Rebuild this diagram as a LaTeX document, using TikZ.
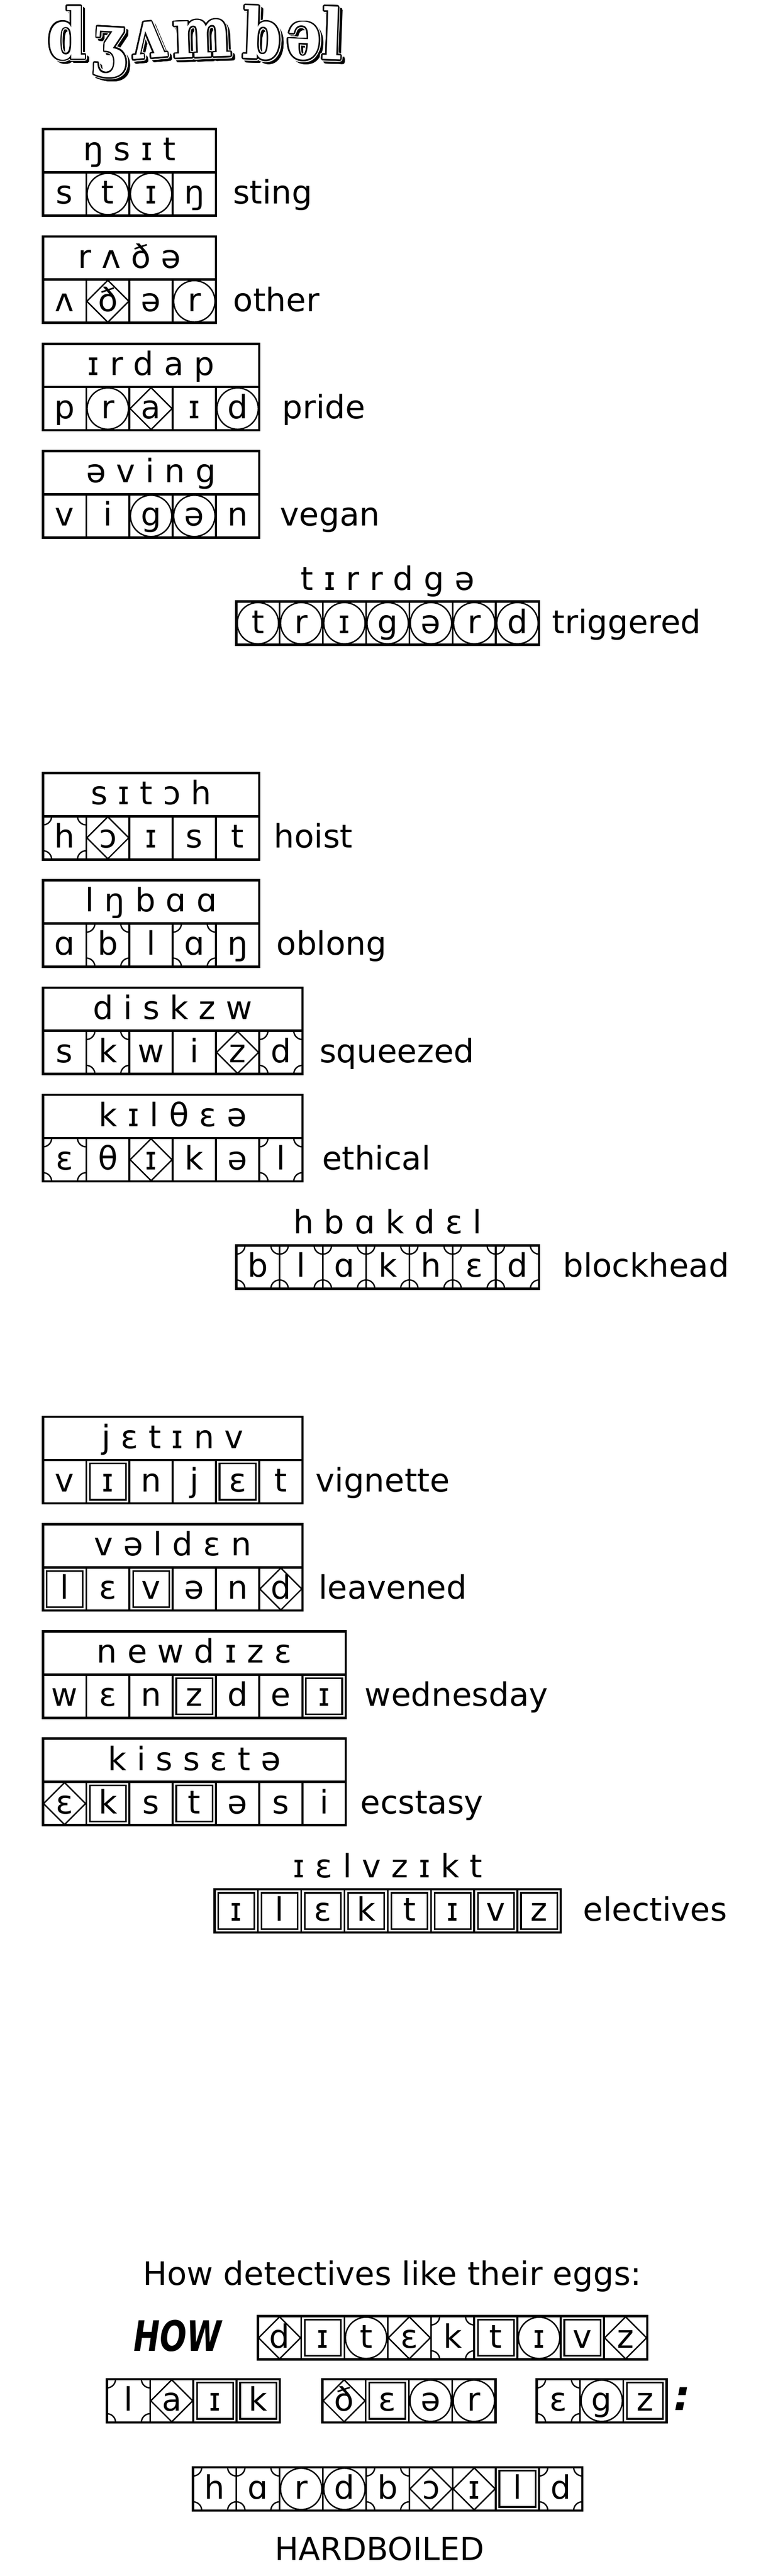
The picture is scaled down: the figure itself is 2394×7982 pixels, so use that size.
\documentclass[tikz,border=0pt]{standalone}
\usepackage{fontspec}
\usepackage{graphicx}
\setmainfont{DejaVu Sans}
\newfontfamily\titlefont{DejaVu Serif}
\newfontfamily\howfont{DejaVu Sans}
\newcount\pzn
\tikzset{
  autoname/.style={/utils/exec={\global\advance\pzn by 1\relax},name=N\the\pzn},
  cellframe/.style={line width=0.55pt},
  outerframe/.style={line width=0.75pt},
  symb/.style={line width=0.42pt},
  ipa/.style={autoname, inner sep=0pt, anchor=base, font=\fontsize{10}{12}\selectfont},
  lbl/.style={autoname, inner sep=0pt, anchor=base west, font=\fontsize{10}{12}\selectfont},
  tlet/.style={autoname, inner sep=0pt, anchor=base, font=\titlefont\bfseries\fontsize{21.5}{24}\selectfont},
  howtxt/.style={autoname, inner sep=0pt, anchor=base, font=\howfont\bfseries\itshape\fontsize{13}{15}\selectfont},
}
% cell marks: #1 x (left), #2 y (top)
\newcommand\pzmkn[2]{}
\newcommand\pzmkc[2]{\draw[symb] (#1+67,#2+67) circle[radius=64];}
\newcommand\pzmkd[2]{\draw[symb] (#1+67,#2+2) -- (#1+132,#2+67) -- (#1+67,#2+132) -- (#1+2,#2+67) -- cycle;}
\newcommand\pzmks[2]{\draw[symb]
   (#1+27,#2) .. controls (#1+27,#2+15) and (#1+15,#2+27) .. (#1,#2+27)
   (#1+107,#2) .. controls (#1+107,#2+15) and (#1+119,#2+27) .. (#1+134,#2+27)
   (#1,#2+107) .. controls (#1+15,#2+107) and (#1+27,#2+119) .. (#1+27,#2+134)
   (#1+134,#2+107) .. controls (#1+119,#2+107) and (#1+107,#2+119) .. (#1+107,#2+134);}
\newcommand\pzmkb[2]{\draw[line width=0.5pt] (#1+11,#2+11) rectangle (#1+123,#2+123);}
\newcommand\pzcell[4]{%
  \draw[cellframe] (#1,#2) rectangle (#1+134,#2+134);
  \csname pzmk#4\endcsname{#1}{#2}%
  \node[ipa] at (#1+67,#2+98) {#3};}
\newcommand\pzrow[3]{%
  \foreach \L/\T [count=\i from 0] in {#3}{\pzcell{#1+\i*134}{#2}{\L}{\T}}}
\newcommand\pzframe[3]{\draw[outerframe] (#1,#2) rectangle (#1+#3*134,#2+134);}
% puzzle: #1 top y, #2 n, #3 scrambled, #4 cells, #5 label x, #6 label
\newcommand\pzpuzzle[6]{%
  \draw[outerframe] (133,#1) rectangle (133+#2*134,#1+134);
  \node[ipa] at (133+#2*67,#1+98) {#3};
  \pzrow{133}{#1+134}{#4}
  \pzframe{133}{#1+134}{#2}
  \node[lbl] at (#5,#1+232) {#6};}
\newcommand\pzfinal[6]{%
  \node[ipa] at (1201,#1+98) {#3};
  \pzrow{1201-#2*67}{#1+134}{#4}
  \pzframe{1201-#2*67}{#1+134}{#2}
  \node[lbl] at (#5,#1+232) {#6};}
% title letter: #1 x, #2 baseline y, #3 rotation, #4 letter
\newcommand\ttl[4]{%
  \foreach \a in {0,22.5,...,337.5}{\node[tlet,text=black,shift={(9,9)},shift={(\a:5)},rotate=#3] at (#1,#2) {\scalebox{0.8}[1]{#4}};}
  \foreach \a in {0,22.5,...,337.5}{\node[tlet,text=white,shift={(\a:7.5)},rotate=#3] at (#1,#2) {\scalebox{0.8}[1]{#4}};}
  \foreach \a in {0,22.5,...,337.5}{\node[tlet,text=black,shift={(\a:4.5)},rotate=#3] at (#1,#2) {\scalebox{0.8}[1]{#4}};}
  \node[tlet,text=white,rotate=#3] at (#1,#2) {\scalebox{0.8}[1]{#4}};}
\begin{document}
\begin{tikzpicture}[x=0.1pt,y=-0.1pt]
\fill[white] (0,0) rectangle (2394,7982);
\useasboundingbox (0,0) rectangle (2394,7982);
% title
\ttl{207}{182}{0}{d}
\ttl{336}{196}{-3}{ʒ}
\ttl{462}{180}{5}{ʌ}
\ttl{628}{177}{2}{m}
\ttl{810}{182}{-2}{b}
\ttl{938}{183}{-3}{ə}
\ttl{1026}{184}{-2}{l}
% section 1
\pzpuzzle{400}{4}{ŋ s ɪ t}{s/n,t/c,ɪ/c,ŋ/n}{720}{sting}
\pzpuzzle{732.5}{4}{r ʌ ð ə}{ʌ/n,ð/d,ə/n,r/c}{721}{other}
\pzpuzzle{1065}{5}{ɪ r d a p}{p/n,r/c,a/d,ɪ/n,d/c}{872}{pride}
\pzpuzzle{1397.5}{5}{ə v i n g}{v/n,i/n,g/c,ə/c,n/n}{866}{vegan}
\pzfinal{1730}{7}{t ɪ r r d g ə}{t/c,r/c,ɪ/c,g/c,ə/c,r/c,d/c}{1709}{triggered}
% section 2
\pzpuzzle{2395}{5}{s ɪ t ɔ h}{h/s,ɔ/d,ɪ/n,s/n,t/n}{847}{hoist}
\pzpuzzle{2727.5}{5}{l ŋ b ɑ ɑ}{ɑ/n,b/s,l/n,ɑ/s,ŋ/n}{855}{oblong}
\pzpuzzle{3060}{6}{d i s k z w}{s/n,k/s,w/n,i/n,z/d,d/s}{988}{squeezed}
\pzpuzzle{3392.5}{6}{k ɪ l θ ɛ ə}{ɛ/s,θ/n,ɪ/d,k/n,ə/n,l/s}{996}{ethical}
\pzfinal{3725}{7}{h b ɑ k d ɛ l}{b/s,l/s,ɑ/s,k/s,h/s,ɛ/s,d/s}{1742}{blockhead}
% section 3
\pzpuzzle{4390}{6}{j ɛ t ɪ n v}{v/n,ɪ/b,n/n,j/n,ɛ/b,t/n}{976}{vignette}
\pzpuzzle{4722.5}{6}{v ə l d ɛ n}{l/b,ɛ/n,v/b,ə/n,n/n,d/d}{985}{leavened}
\pzpuzzle{5055}{7}{n e w d ɪ z ɛ}{w/n,ɛ/n,n/n,z/b,d/n,e/n,ɪ/b}{1128}{wednesday}
\pzpuzzle{5387.5}{7}{k i s s ɛ t ə}{ɛ/d,k/b,s/n,t/b,ə/n,s/n,i/n}{1115}{ecstasy}
\pzfinal{5720}{8}{ɪ ɛ l v z ɪ k t}{ɪ/b,l/b,ɛ/b,k/b,t/b,ɪ/b,v/b,z/b}{1805}{electives}
% final riddle
\node[ipa,font=\fontsize{10}{12}\selectfont] (riddle) at (1215,7080) {How detectives like their eggs:};
\node[howtxt] (how) at (550,7285) {\scalebox{0.75}[1]{HOW}};
\pzrow{799}{7177}{d/d,ɪ/b,t/c,ɛ/d,k/s,t/b,ɪ/c,v/b,z/d}
\pzframe{799}{7177}{9}
\pzrow{331}{7372}{l/s,a/d,ɪ/b,k/b}
\pzframe{331}{7372}{4}
\pzrow{999}{7372}{ð/d,ɛ/b,ə/c,r/c}
\pzframe{999}{7372}{4}
\pzrow{1663}{7372}{ɛ/s,g/c,z/b}
\pzframe{1663}{7372}{3}
\node[howtxt] (colon) at (2113,7468) {:};
\pzrow{598}{7645}{h/s,ɑ/s,r/c,d/c,b/s,ɔ/d,ɪ/d,l/b,d/s}
\pzframe{598}{7645}{9}
\node[ipa,font=\fontsize{9.8}{12}\selectfont] (answer) at (1176,7934) {HARDBOILED};
\end{tikzpicture}
\end{document}
